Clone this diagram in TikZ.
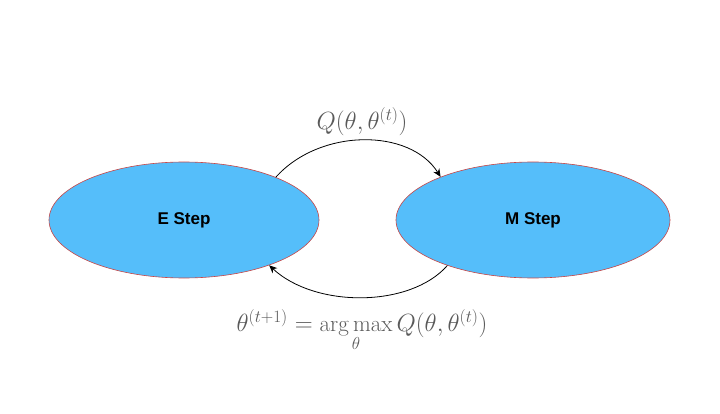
\documentclass[tikz,border=0pt]{standalone}
\usepackage{fontspec}
\setsansfont{Liberation Sans}
\usetikzlibrary{arrows.meta,shapes.geometric}
\begin{document}
\begin{tikzpicture}[x=1pt,y=-1pt,
  stepnode/.style={ellipse,draw={rgb,255:red,200;green,70;blue,70},line width=0.6pt,fill={rgb,255:red,85;green,190;blue,250},minimum width=270pt,minimum height=116pt,inner sep=0pt,font=\sffamily\bfseries\fontsize{17}{20}\selectfont},
  conn/.style={line width=0.8pt,-{Stealth[length=8pt,width=7pt]}},
  lab/.style={text={rgb,255:red,90;green,90;blue,90},font=\fontsize{23}{26}\selectfont}]
\useasboundingbox (0,0) rectangle (720,414);
\node[stepnode] (e) at (184,220) {E Step};
\node[stepnode,minimum width=274pt] (m) at (533,220) {M Step};
\draw[conn] (e.25) .. controls (320,128) and (410,128) .. (m.155);
\draw[conn] (m.-152) .. controls (410,308) and (315,308) .. (e.-28);
\node[lab] (q) at (362,122) {$Q(\theta,\theta^{(t)})$};
\node[lab] (a) at (362,330) {$\theta^{(t+1)}=\mathop{\arg\max}\limits_{\theta} Q(\theta,\theta^{(t)})$};
\end{tikzpicture}
\end{document}
